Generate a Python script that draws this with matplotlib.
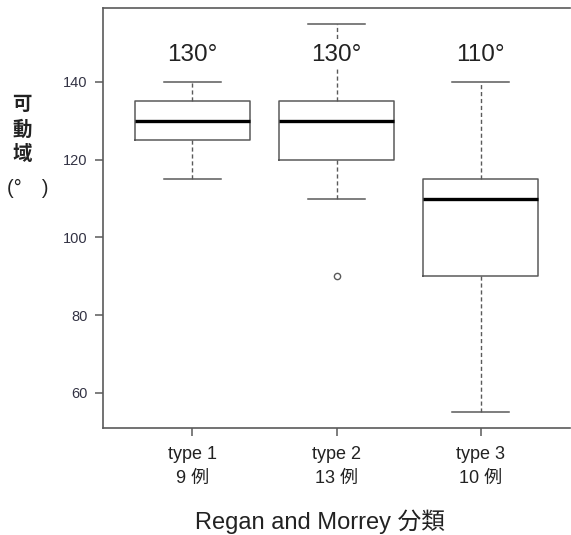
import matplotlib.pyplot as plt

plt.rcParams['font.family'] = ['Liberation Sans', 'Noto Sans CJK JP', 'DejaVu Sans']

# box plot summary values
types = ["type 1", "type 2", "type 3"]
counts = ["9 例", "13 例", "10 例"]
whisker_low = [115, 110, 55]
q1 = [125, 120, 90]
medians = [130, 130, 110]
q3 = [135, 135, 115]
whisker_high = [140, 155, 140]
outliers = [[], [90], []]
median_labels = ["130°", "130°", "110°"]

stats = []
for i in range(len(types)):
    stats.append(dict(whislo=whisker_low[i], q1=q1[i], med=medians[i], q3=q3[i],
                      whishi=whisker_high[i], fliers=outliers[i]))

fig = plt.figure(figsize=(5.71, 5.35), dpi=100)
ax = fig.add_axes([103/571, 1 - 428/535, 467/571, 420/535])

line_col = "#5a5a5a"
positions = [1, 2, 3]
ax.bxp(stats, positions=positions, widths=0.8, showfliers=True,
       boxprops=dict(color=line_col, linewidth=1.1),
       whiskerprops=dict(color=line_col, linewidth=1.0, linestyle=(0, (3, 2))),
       capprops=dict(color=line_col, linewidth=1.1),
       capwidths=0.4,
       medianprops=dict(color="black", linewidth=2.4),
       flierprops=dict(marker="o", markersize=4.5, markerfacecolor="none",
                       markeredgecolor=line_col, markeredgewidth=1.0))

for p, lab in zip(positions, median_labels):
    ax.text(p, 147, lab, ha="center", va="center", fontsize=17.5, color="#222222",
            bbox=dict(facecolor="white", edgecolor="none", pad=1.5), zorder=5)

ax.set_xlim(0.38, 3.62)
ax.set_ylim(51, 159)
ax.set_yticks([60, 80, 100, 120, 140])
ax.set_xticks(positions)
ax.set_xticklabels([t + "\n" + c for t, c in zip(types, counts)], linespacing=1.55)
ax.tick_params(axis="y", labelsize=10.5, colors=line_col, labelcolor="#333344", length=6, width=1.1, pad=5)
ax.tick_params(axis="x", labelsize=13, colors=line_col, labelcolor="#222222", length=6, width=1.1, pad=7)

for s in ["left", "bottom", "top"]:
    ax.spines[s].set_color(line_col)
    ax.spines[s].set_linewidth(1.2)
ax.spines["right"].set_visible(False)

# vertical japanese axis label
for ch, y in zip(["可", "動", "域"], [105, 130, 155]):
    fig.text(22/571, 1 - y/535, ch, ha="center", va="center", fontsize=14, fontweight="bold", color="#222222")
fig.text(28/571, 1 - 188/535, "(°\u2003)", ha="center", va="center", fontsize=14.5, color="#222222")

fig.text(320/571, 1 - 522/535, "Regan and Morrey 分類", ha="center", va="center",
         fontsize=17, color="#222222")

plt.savefig("out.png", dpi=100)
